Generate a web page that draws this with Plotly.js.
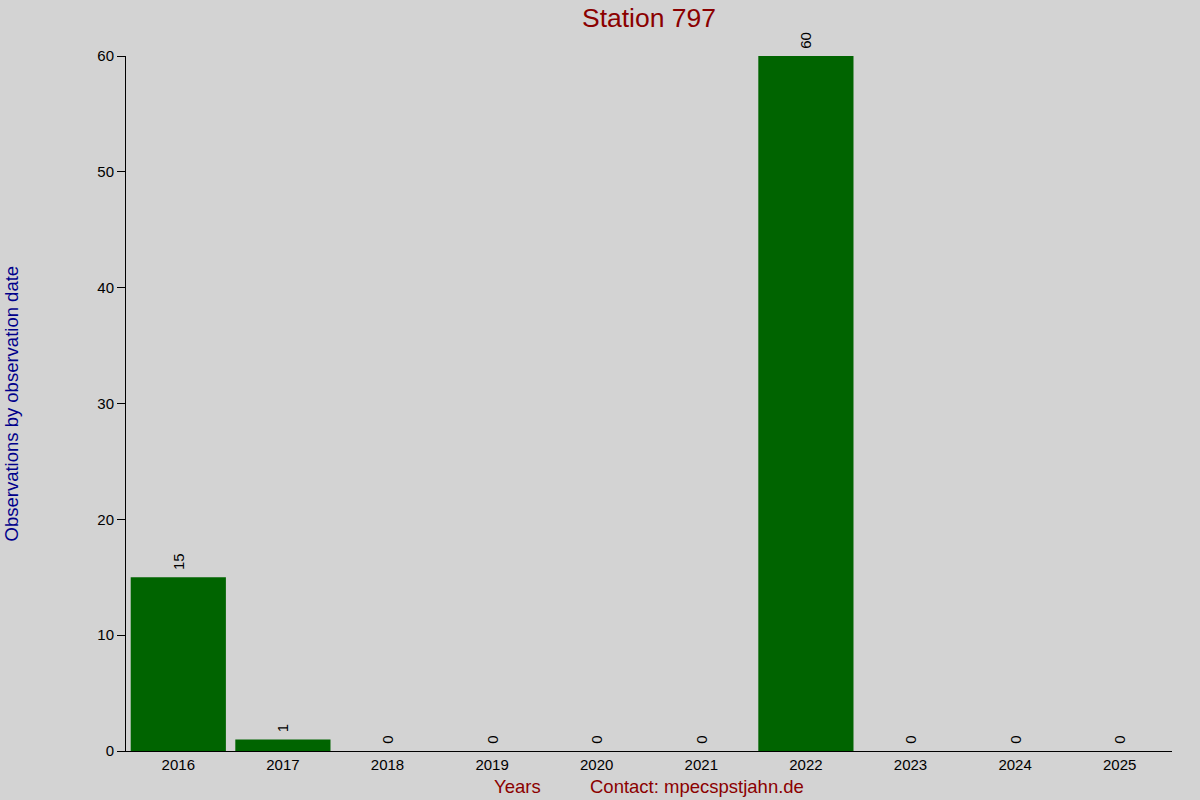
<!DOCTYPE html>
<html>
<head>
<meta charset="utf-8">
<script src="https://cdn.plot.ly/plotly-3.0.1.min.js"></script>
<style>
  html, body { margin: 0; padding: 0; background: #d3d3d3; }
  #chart { width: 1200px; height: 800px; }
</style>
</head>
<body>
<div id="chart"></div>
<script>
// Observations per year for the station
const years = ['2016', '2017', '2018', '2019', '2020', '2021', '2022', '2023', '2024', '2025'];
const counts = [15, 1, 0, 0, 0, 0, 60, 0, 0, 0];
const yTicks = [0, 10, 20, 30, 40, 50, 60];

const barTrace = {
    type: 'bar',
    x: years,
    y: counts,
    marker: { color: '#006400', line: { width: 0 } },
    // leading nbsp gives the rotated labels a bit of air above the bars
    text: counts.map(v => '\u00a0' + v),
    textposition: 'outside',
    textangle: -90,
    textfont: { family: 'Liberation Sans, Arial, sans-serif', size: 15, color: '#000000' },
    cliponaxis: false,
    hoverinfo: 'x+y'
};

const layout = {
    width: 1200,
    height: 800,
    paper_bgcolor: '#d3d3d3',
    plot_bgcolor: '#d3d3d3',
    font: { family: 'Liberation Sans, Arial, sans-serif', size: 15, color: '#000000' },
    margin: { l: 126, r: 28, t: 56, b: 49 },
    showlegend: false,
    bargap: 0.09,
    title: {
        text: 'Station 797',
        font: { size: 26.5, color: '#8b0000' },
        x: 0.5,
        xref: 'paper',
        y: 0.978,
        yref: 'container',
        yanchor: 'middle'
    },
    xaxis: {
        type: 'category',
        range: [-0.5, 9.5],
        showgrid: false,
        zeroline: false,
        showline: true,
        linecolor: '#000000',
        linewidth: 1,
        ticks: '',
        tickfont: { size: 15 },
        fixedrange: true
    },
    // tiny tick dots along the top edge
    xaxis2: {
        overlaying: 'x',
        side: 'top',
        range: [-0.5, 9.5],
        tickmode: 'array',
        tickvals: years.map((_, i) => i),
        showticklabels: false,
        ticks: 'inside',
        ticklen: 1,
        tickwidth: 1,
        tickcolor: '#000000',
        showgrid: false,
        zeroline: false,
        showline: false,
        fixedrange: true
    },
    yaxis: {
        range: [0, 60],
        tickvals: yTicks,
        showgrid: false,
        zeroline: false,
        showline: true,
        linecolor: '#000000',
        linewidth: 1,
        ticks: 'outside',
        ticklen: 8,
        tickcolor: '#000000',
        tickfont: { size: 15 },
        fixedrange: true
    },
    annotations: [
        {
            text: 'Observations by observation date',
            xref: 'paper', yref: 'paper',
            x: -0.109, y: 0.5,
            xanchor: 'center', yanchor: 'middle',
            textangle: -90,
            showarrow: false,
            font: { size: 18.5, color: '#00008b' }
        },
        {
            text: 'Years',
            xref: 'paper', yref: 'paper',
            x: 0.374, y: -0.0504,
            xanchor: 'center', yanchor: 'middle',
            showarrow: false,
            font: { size: 18.5, color: '#8b0000' }
        },
        {
            text: 'Contact: mpecspstjahn.de',
            xref: 'paper', yref: 'paper',
            x: 0.546, y: -0.0504,
            xanchor: 'center', yanchor: 'middle',
            showarrow: false,
            font: { size: 18.5, color: '#8b0000' }
        }
    ]
};

const config = { displayModeBar: false, staticPlot: true };

Plotly.newPlot('chart', [barTrace], layout, config);
</script>
</body>
</html>
